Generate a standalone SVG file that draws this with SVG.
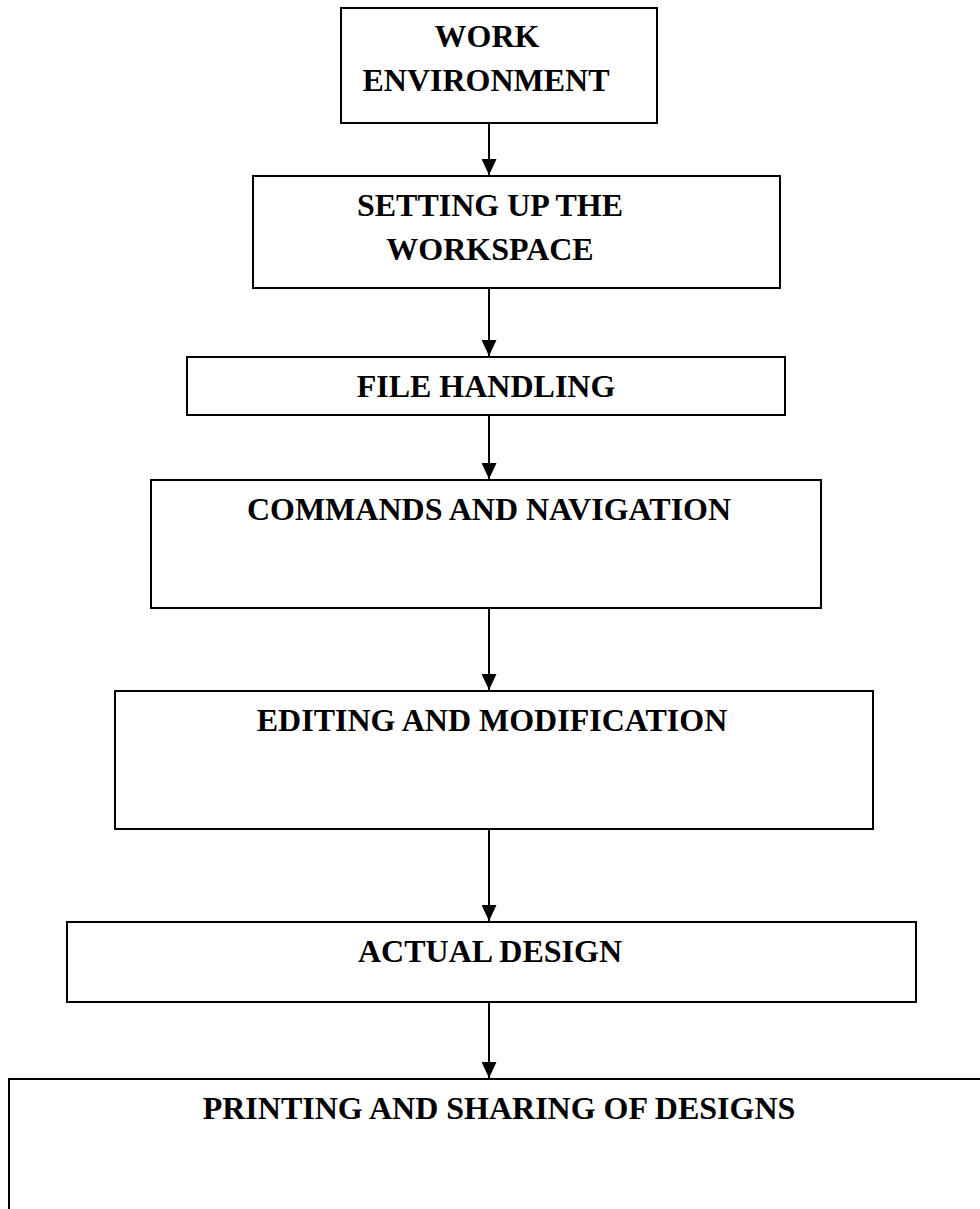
<svg xmlns="http://www.w3.org/2000/svg" width="980" height="1209" viewBox="0 0 980 1209">
  <style>
    .box { fill: #ffffff; stroke: #000000; stroke-width: 2; }
    .lbl { font-family: "Liberation Serif", "Times New Roman", serif; font-weight: bold; font-size: 32px; fill: #000000; text-anchor: middle; }
    .conn { stroke: #000000; stroke-width: 2; fill: none; }
  </style>
  <defs>
    <marker id="arrow" markerWidth="16" markerHeight="15" refX="16" refY="7.5" orient="auto" markerUnits="userSpaceOnUse">
      <path d="M0,0 L16,7.5 L0,15 Z" fill="#000000"/>
    </marker>
  </defs>
  <rect x="0" y="0" width="980" height="1209" fill="#ffffff"/>

  <g id="node-work-environment">
    <rect class="box" x="341" y="8" width="316" height="115"/>
    <text class="lbl" x="487" y="47">WORK</text>
    <text class="lbl" x="486" y="91">ENVIRONMENT</text>
  </g>

  <g id="node-setting-up">
    <rect class="box" x="253" y="176" width="527" height="112"/>
    <text class="lbl" x="490" y="216">SETTING UP THE</text>
    <text class="lbl" x="490" y="260">WORKSPACE</text>
  </g>

  <g id="node-file-handling">
    <rect class="box" x="187" y="357" width="598" height="58"/>
    <text class="lbl" x="486" y="397">FILE HANDLING</text>
  </g>

  <g id="node-commands">
    <rect class="box" x="151" y="480" width="670" height="128"/>
    <text class="lbl" x="489" y="520">COMMANDS AND NAVIGATION</text>
  </g>

  <g id="node-editing">
    <rect class="box" x="115" y="691" width="758" height="138"/>
    <text class="lbl" x="492" y="731">EDITING AND MODIFICATION</text>
  </g>

  <g id="node-actual-design">
    <rect class="box" x="67" y="922" width="849" height="80"/>
    <text class="lbl" x="490" y="962">ACTUAL DESIGN</text>
  </g>

  <g id="node-printing">
    <rect class="box" x="9" y="1079" width="1000" height="160"/>
    <text class="lbl" x="499" y="1119">PRINTING AND SHARING OF DESIGNS</text>
  </g>

  <g id="connectors">
    <line class="conn" x1="489" y1="123" x2="489" y2="175" marker-end="url(#arrow)"/>
    <line class="conn" x1="489" y1="288" x2="489" y2="356" marker-end="url(#arrow)"/>
    <line class="conn" x1="489" y1="415" x2="489" y2="479" marker-end="url(#arrow)"/>
    <line class="conn" x1="489" y1="608" x2="489" y2="690" marker-end="url(#arrow)"/>
    <line class="conn" x1="489" y1="829" x2="489" y2="921" marker-end="url(#arrow)"/>
    <line class="conn" x1="489" y1="1002" x2="489" y2="1078" marker-end="url(#arrow)"/>
  </g>
</svg>
